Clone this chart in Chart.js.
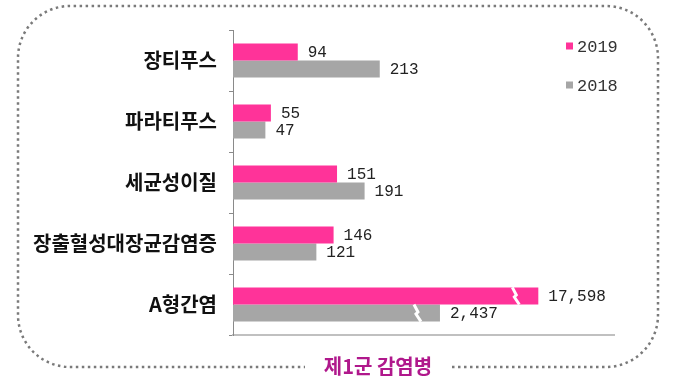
<!DOCTYPE html>
<html>
<head>
<meta charset="utf-8">
<script src="https://cdn.jsdelivr.net/npm/chart.js@4"></script>
<style>
	html, body { margin: 0; padding: 0; background: #fff; }
	#wrap { width: 680px; height: 390px; }
</style>
</head>
<body>
<div id="wrap"><canvas id="myChart" width="680" height="390"></canvas></div>
<script>
var categories = ['장티푸스', '파라티푸스', '세균성이질', '장출혈성대장균감염증', 'A형간염'];
var values2019 = [94, 55, 151, 146, 17598];
var values2018 = [213, 47, 191, 121, 2437];
var seriesNames = ['2019', '2018'];
var seriesColors = ['#ff3399', '#a6a6a6'];
var chartTitle = '제1군 감염병';

// above this value the axis is squeezed (broken bars)
var breakAt = 230;

function squeeze(v) {
	if (v <= breakAt) return v;
	return breakAt + 1.127 * Math.pow(v - breakAt, 0.537);
}

class BrokenScale extends Chart.LinearScale {
	getPixelForValue(value) {
		return super.getPixelForValue(squeeze(value));
	}
}
BrokenScale.id = 'broken';
BrokenScale.defaults = Chart.LinearScale.defaults;
Chart.register(BrokenScale);

var frame = {
	id: 'frame',
	beforeDraw: function(chart) {
		var ctx = chart.ctx;
		var l = 18, t = 6, r = 658, b = 367, rad = 52;
		var gapL = 305, gapR = 452;
		ctx.save();
		ctx.strokeStyle = '#7a7a7a';
		ctx.lineWidth = 2.5;
		ctx.setLineDash([2.5, 3.5]);
		ctx.beginPath();
		ctx.moveTo(gapR, b);
		ctx.arcTo(r, b, r, t, rad);
		ctx.arcTo(r, t, l, t, rad);
		ctx.arcTo(l, t, l, b, rad);
		ctx.arcTo(l, b, r, b, rad);
		ctx.lineTo(gapL, b);
		ctx.stroke();
		ctx.restore();
	},
	afterDraw: function(chart) {
		var ctx = chart.ctx;
		ctx.save();
		// title
		ctx.font = 'bold 20px "Noto Sans CJK KR"';
		ctx.fillStyle = '#b0188c';
		ctx.textAlign = 'center';
		ctx.textBaseline = 'middle';
		ctx.fillText(chartTitle, 378, 366);

		// legend
		ctx.font = '17px "Liberation Mono"';
		ctx.textAlign = 'left';
		chart.data.datasets.forEach(function(ds, i) {
			var y = 46 + i * 39;
			ctx.fillStyle = ds.backgroundColor;
			ctx.fillRect(566, y - 3.5, 7, 7);
			ctx.fillStyle = '#333';
			ctx.fillText(ds.label, 577, y + 1);
		});

		// value labels + break marks
		ctx.font = '16px "Liberation Mono"';
		ctx.fillStyle = '#222';
		chart.data.datasets.forEach(function(ds, i) {
			chart.getDatasetMeta(i).data.forEach(function(bar, j) {
				var v = ds.data[j];
				ctx.fillText(v.toLocaleString('en-US'), bar.x + 10, bar.y + 1);
				if (v > breakAt) {
					var x = bar.x - 22, h = bar.height / 2;
					ctx.strokeStyle = '#fff';
					ctx.lineWidth = 3;
					ctx.beginPath();
					ctx.moveTo(x - 4, bar.y - h);
					ctx.lineTo(x, bar.y - 1);
					ctx.lineTo(x - 2, bar.y + 1);
					ctx.lineTo(x + 3, bar.y + h);
					ctx.stroke();
				}
			});
		});
		ctx.restore();
	}
};

var chart = new Chart(document.getElementById('myChart').getContext('2d'), {
	type: 'bar',
	data: {
		labels: categories,
		datasets: [{
			label: seriesNames[0],
			data: values2019,
			backgroundColor: seriesColors[0],
		}, {
			label: seriesNames[1],
			data: values2018,
			backgroundColor: seriesColors[1],
		}]
	},
	options: {
		indexAxis: 'y',
		responsive: false,
		animation: false,
		layout: { padding: { left: 0, top: 30, right: 66, bottom: 55 } },
		datasets: {
			bar: { barPercentage: 1, categoryPercentage: 0.56 }
		},
		plugins: {
			legend: { display: false },
			tooltip: { enabled: false },
		},
		scales: {
			x: {
				type: 'broken',
				min: 0,
				max: 553,
				ticks: { display: false },
				grid: { display: false },
				border: { display: true, color: '#c0c0c0', width: 2 },
				afterFit: function(scale) { scale.height = 0; },
			},
			y: {
				ticks: {
					color: '#111',
					padding: 12,
					font: { family: '"Noto Sans CJK KR"', size: 20, weight: 'bold' },
				},
				grid: { drawOnChartArea: false, color: '#8a8a8a', tickLength: 4, offset: true },
				border: { display: true, color: '#8a8a8a', width: 1 },
				afterFit: function(scale) { scale.width = 233; },
			}
		}
	},
	plugins: [frame]
});
</script>
</body>
</html>
